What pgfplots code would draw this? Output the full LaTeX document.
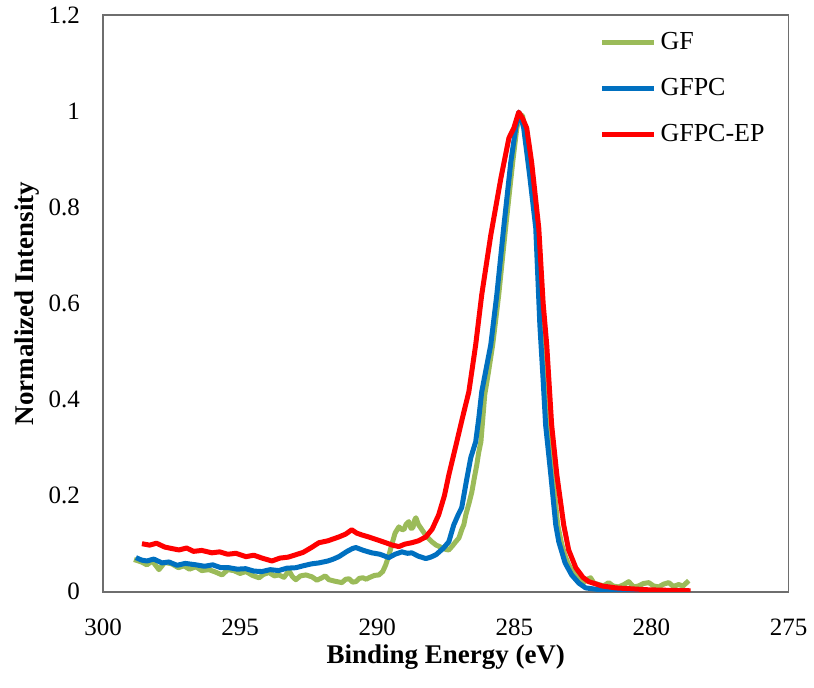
\documentclass[border=0pt]{standalone}
\usepackage{pgfplots}
\pgfplotsset{compat=1.18}
\usepackage{fontspec}
\setmainfont{Liberation Serif}
\definecolor{gfgreen}{RGB}{155,187,89}
\definecolor{gfblue}{RGB}{0,112,192}
\definecolor{gfred}{RGB}{255,0,0}
\definecolor{axgray}{RGB}{110,110,110}
\begin{document}
\begin{tikzpicture}
\begin{axis}[
  scale only axis,
  width=343pt, height=288.5pt,
  x dir=reverse,
  xmin=275, xmax=300, ymin=0, ymax=1.2,
  xtick={275,280,...,300},
  ytick={0,0.2,0.4,0.6,0.8,1,1.2},
  major tick length=0pt,
  axis line style={axgray, line width=0.9pt},
  /pgf/number format/assume math mode=true,
  tick label style={font=\fontsize{12.5}{14}\selectfont, black},
  yticklabel style={xshift=-8pt},
  xticklabel style={yshift=-10pt},
  xlabel={\textbf{Binding Energy (eV)}},
  ylabel={\textbf{Normalized Intensity}},
  label style={font=\fontsize{13.5}{16}\selectfont},
  xlabel style={at={(axis description cs:0.5,-0.1127)}, anchor=center},
  ylabel style={at={(axis description cs:-0.111,0.5)}, anchor=center},
  legend style={at={(0.715,0.985)}, anchor=north west, draw=none, fill=none,
    font=\fontsize{13}{15}\selectfont, row sep=9pt,
    legend cell align=left},
  legend image code/.code={\draw[#1, line width=2.5pt] (0pt,0pt) -- (26pt,0pt);},
  every axis plot/.append style={line width=2.5pt, line join=round},
]
\addplot[gfgreen, no markers] coordinates {
(298.87,0.067) (298.60,0.062) (298.40,0.056) (298.20,0.064) (297.96,0.046)
(297.75,0.061) (297.49,0.058) (297.25,0.050) (297.05,0.054) (296.85,0.047)
(296.61,0.052) (296.40,0.044) (296.14,0.046) (295.90,0.041) (295.66,0.035)
(295.45,0.046) (295.23,0.044) (295.00,0.038) (294.79,0.042) (294.55,0.034)
(294.31,0.029) (294.15,0.036) (293.95,0.040) (293.75,0.033) (293.59,0.035)
(293.40,0.030) (293.22,0.044) (293.10,0.032) (292.97,0.025) (292.80,0.033)
(292.60,0.035) (292.38,0.031) (292.20,0.024) (292.02,0.029) (291.90,0.033)
(291.76,0.025) (291.55,0.022) (291.29,0.019) (291.15,0.026) (291.03,0.027)
(290.90,0.020) (290.78,0.021) (290.65,0.028) (290.52,0.029) (290.40,0.026)
(290.31,0.029) (290.10,0.034) (289.94,0.035) (289.80,0.042) (289.69,0.056)
(289.58,0.075) (289.47,0.098) (289.35,0.122) (289.21,0.135) (289.12,0.130)
(289.03,0.129) (288.95,0.140) (288.85,0.146) (288.77,0.132) (288.70,0.133)
(288.63,0.150) (288.59,0.154) (288.50,0.140) (288.37,0.129) (288.20,0.115)
(288.01,0.104) (287.85,0.097) (287.65,0.092) (287.50,0.088) (287.39,0.087)
(287.25,0.096) (287.14,0.104) (287.02,0.112) (286.92,0.129) (286.84,0.140)
(286.77,0.160) (286.65,0.185) (286.55,0.208) (286.45,0.240) (286.37,0.264)
(286.30,0.290) (286.22,0.312) (286.08,0.410) (285.95,0.455) (285.79,0.514)
(285.57,0.618) (285.32,0.757) (285.06,0.894) (284.91,0.965) (284.80,0.994)
(284.70,0.990) (284.62,0.965) (284.40,0.870) (284.18,0.757) (284.00,0.580)
(283.88,0.450) (283.78,0.347) (283.60,0.243) (283.42,0.139) (283.27,0.098)
(283.15,0.075) (283.02,0.056) (282.85,0.040) (282.73,0.035) (282.60,0.022)
(282.47,0.019) (282.35,0.026) (282.22,0.029) (282.10,0.018) (281.92,0.015)
(281.75,0.012) (281.56,0.019) (281.40,0.012) (281.20,0.010) (281.00,0.015)
(280.83,0.021) (280.65,0.010) (280.47,0.012) (280.30,0.017) (280.10,0.019)
(279.92,0.012) (279.74,0.010) (279.55,0.016) (279.37,0.019) (279.20,0.011)
(279.01,0.015) (278.85,0.012) (278.64,0.023)
};
\addlegendentry{GF}
\addplot[gfblue, no markers] coordinates {
(298.80,0.071) (298.60,0.066) (298.40,0.064) (298.15,0.068) (297.85,0.060)
(297.60,0.062) (297.30,0.055) (297.00,0.059) (296.61,0.056) (296.30,0.053)
(296.00,0.056) (295.70,0.050) (295.41,0.050) (295.10,0.047) (294.80,0.048)
(294.50,0.043) (294.21,0.042) (293.90,0.046) (293.60,0.044) (293.30,0.049)
(292.97,0.050) (292.70,0.054) (292.40,0.058) (292.13,0.060) (291.80,0.064)
(291.60,0.068) (291.40,0.073) (291.10,0.084) (290.90,0.090) (290.78,0.092)
(290.50,0.086) (290.20,0.081) (289.90,0.078) (289.58,0.071) (289.35,0.078)
(289.10,0.083) (288.90,0.080) (288.74,0.081) (288.50,0.074) (288.23,0.069)
(288.05,0.072) (287.86,0.077) (287.60,0.090) (287.39,0.104) (287.21,0.139)
(287.05,0.160) (286.92,0.175) (286.75,0.230) (286.59,0.279) (286.41,0.312)
(286.30,0.360) (286.19,0.416) (285.86,0.514) (285.64,0.618) (285.39,0.757)
(285.13,0.894) (284.95,0.965) (284.84,0.998) (284.75,0.985) (284.66,0.965)
(284.45,0.870) (284.22,0.757) (284.07,0.555) (283.95,0.440) (283.86,0.347)
(283.67,0.243) (283.49,0.139) (283.38,0.104) (283.15,0.060) (282.91,0.035)
(282.65,0.018) (282.40,0.008) (282.00,0.005) (281.60,0.004) (281.20,0.002)
(280.50,0.003) (279.80,0.002) (279.01,0.002)
};
\addlegendentry{GFPC}
\addplot[gfred, no markers] coordinates {
(298.58,0.100) (298.30,0.097) (298.05,0.101) (297.75,0.093) (297.50,0.090)
(297.23,0.087) (296.95,0.091) (296.70,0.084) (296.40,0.086) (296.03,0.081)
(295.75,0.083) (295.45,0.078) (295.15,0.080) (294.79,0.073) (294.50,0.076)
(294.20,0.070) (293.84,0.064) (293.55,0.070) (293.25,0.072) (292.97,0.077)
(292.70,0.082) (292.40,0.092) (292.13,0.102) (291.80,0.106) (291.40,0.114)
(291.15,0.120) (290.93,0.129) (290.75,0.122) (290.55,0.118) (290.31,0.114)
(290.00,0.108) (289.69,0.102) (289.45,0.097) (289.21,0.094) (289.00,0.099)
(288.74,0.102) (288.50,0.106) (288.23,0.114) (288.00,0.130) (287.76,0.160)
(287.55,0.200) (287.39,0.243) (287.10,0.312) (286.88,0.365) (286.66,0.416)
(286.41,0.514) (286.19,0.618) (285.86,0.742) (285.49,0.861) (285.20,0.944)
(285.02,0.965) (284.84,0.998) (284.70,0.985) (284.55,0.965) (284.37,0.894)
(284.11,0.757) (283.95,0.600) (283.82,0.514) (283.64,0.347) (283.45,0.243)
(283.20,0.139) (283.02,0.087) (282.76,0.050) (282.50,0.030) (282.29,0.021)
(281.80,0.012) (281.30,0.008) (280.70,0.006) (280.10,0.004) (279.40,0.003)
(278.57,0.002)
};
\addlegendentry{GFPC-EP}
\end{axis}
\path ([xshift=-4pt]current bounding box.north west);
\path ([yshift=-6pt]current bounding box.south west);
\end{tikzpicture}
\end{document}
